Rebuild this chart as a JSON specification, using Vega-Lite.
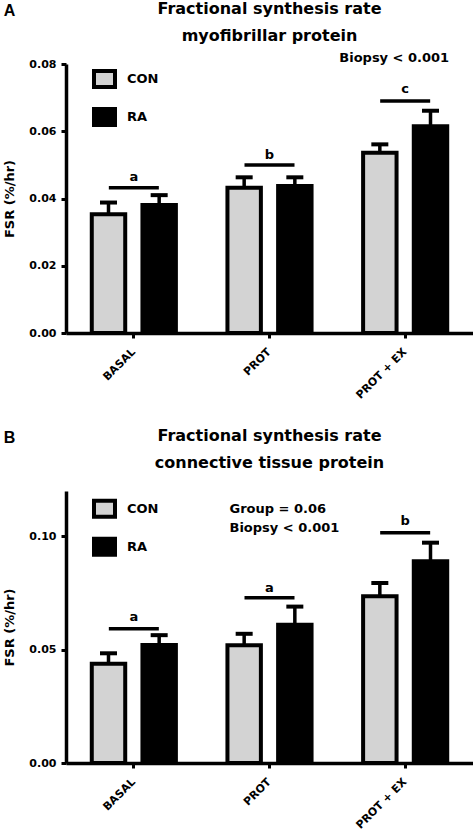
{
  "$schema": "https://vega.github.io/schema/vega-lite/v6.json",
  "background": "white",
  "padding": {"left": 3, "top": 0, "right": 0, "bottom": 0},
  "spacing": 27,
  "config": {
    "view": {"stroke": null},
    "font": "DejaVu Sans",
    "axis": {
      "grid": false,
      "domainColor": "black",
      "domainWidth": 3.5,
      "tickColor": "black",
      "tickWidth": 3,
      "tickSize": 5,
      "labelFont": "DejaVu Sans",
      "labelFontWeight": "bold",
      "labelFontSize": 11,
      "labelColor": "black",
      "titleFont": "DejaVu Sans",
      "titleFontWeight": "bold",
      "titleFontSize": 13,
      "titleColor": "black"
    },
    "legend": {
      "orient": "none",
      "title": null,
      "padding": 0,
      "symbolType": "M-1.05,-0.8H1.05V0.8H-1.05Z",
      "symbolSize": 400,
      "symbolStrokeColor": "black",
      "symbolStrokeWidth": 4,
      "labelFont": "DejaVu Sans",
      "labelFontWeight": "bold",
      "labelFontSize": 13,
      "labelColor": "black",
      "labelOffset": 10.5,
      "rowPadding": 6
    },
    "title": {
      "font": "DejaVu Sans",
      "fontWeight": "bold",
      "fontSize": 16,
      "color": "black",
      "lineHeight": 27,
      "baseline": "alphabetic"
    }
  },
  "datasets": {
    "barsA": [
      {"cond": "BASAL", "group": "CON", "mean": 0.0353, "upper": 0.0388},
      {"cond": "BASAL", "group": "RA", "mean": 0.0381, "upper": 0.041},
      {"cond": "PROT", "group": "CON", "mean": 0.0432, "upper": 0.0463},
      {"cond": "PROT", "group": "RA", "mean": 0.0437, "upper": 0.0463},
      {"cond": "PROT + EX", "group": "CON", "mean": 0.0536, "upper": 0.0561},
      {"cond": "PROT + EX", "group": "RA", "mean": 0.0615, "upper": 0.0661}
    ],
    "sigA": [
      {"cond": "BASAL", "line": 0.0432, "letter": "a", "pos": 0.0453},
      {"cond": "PROT", "line": 0.05, "letter": "b", "pos": 0.0517},
      {"cond": "PROT + EX", "line": 0.069, "letter": "c", "pos": 0.0713}
    ],
    "noteA": [
      {"cond": "PROT + EX", "pos": 0.0806, "note": "Biopsy < 0.001"}
    ],
    "barsB": [
      {"cond": "BASAL", "group": "CON", "mean": 0.0438, "upper": 0.0484},
      {"cond": "BASAL", "group": "RA", "mean": 0.0521, "upper": 0.0564},
      {"cond": "PROT", "group": "CON", "mean": 0.052, "upper": 0.057},
      {"cond": "PROT", "group": "RA", "mean": 0.061, "upper": 0.069},
      {"cond": "PROT + EX", "group": "CON", "mean": 0.0736, "upper": 0.0794},
      {"cond": "PROT + EX", "group": "RA", "mean": 0.089, "upper": 0.0972}
    ],
    "sigB": [
      {"cond": "BASAL", "line": 0.0592, "letter": "a", "pos": 0.0625},
      {"cond": "PROT", "line": 0.0729, "letter": "a", "pos": 0.0756},
      {"cond": "PROT + EX", "line": 0.1016, "letter": "b", "pos": 0.1052}
    ],
    "noteB": [
      {"cond": "PROT", "pos": 0.1104, "note": "Group = 0.06"},
      {"cond": "PROT", "pos": 0.1019, "note": "Biopsy < 0.001"}
    ]
  },
  "vconcat": [
    {
      "title": {"text": "A", "anchor": "start", "frame": "bounds", "offset": -18, "font": "Liberation Sans", "fontSize": 16},
      "resolve": {"scale": {"fill": "independent"}, "legend": {"fill": "independent"}},
      "vconcat": [
        {
          "width": 407,
          "height": 269,
          "title": {"text": ["Fractional synthesis rate", "myofibrillar protein"], "anchor": "middle", "frame": "group", "offset": 8},
          "layer": [
            {
              "data": {"name": "sigA"},
              "mark": {"type": "tick", "color": "black", "opacity": 1, "size": 50, "thickness": 3.5},
              "encoding": {
                "x": {"field": "cond", "type": "nominal", "sort": ["BASAL", "PROT", "PROT + EX"]},
                "y": {"field": "line", "type": "quantitative"}
              }
            },
            {
              "data": {"name": "sigA"},
              "mark": {"type": "text", "fontSize": 13, "fontWeight": "bold", "color": "black", "baseline": "alphabetic"},
              "encoding": {
                "x": {"field": "cond", "type": "nominal", "sort": ["BASAL", "PROT", "PROT + EX"]},
                "y": {"field": "pos", "type": "quantitative"},
                "text": {"field": "letter"}
              }
            },
            {
              "data": {"name": "noteA"},
              "mark": {"type": "text", "fontSize": 13, "fontWeight": "bold", "color": "black", "align": "right", "baseline": "alphabetic", "dx": 44},
              "encoding": {
                "x": {"field": "cond", "type": "nominal", "sort": ["BASAL", "PROT", "PROT + EX"]},
                "y": {"field": "pos", "type": "quantitative"},
                "text": {"field": "note"}
              }
            },
            {
              "data": {"name": "barsA"},
              "mark": {"type": "rule", "color": "black", "strokeWidth": 3.5},
              "encoding": {
                "x": {"field": "cond", "type": "nominal", "sort": ["BASAL", "PROT", "PROT + EX"]},
                "xOffset": {"field": "group", "sort": ["CON", "RA"]},
                "y": {"field": "mean", "type": "quantitative"},
                "y2": {"field": "upper"}
              }
            },
            {
              "data": {"name": "barsA"},
              "mark": {"type": "tick", "color": "black", "opacity": 1, "size": 17, "thickness": 4},
              "encoding": {
                "x": {"field": "cond", "type": "nominal", "sort": ["BASAL", "PROT", "PROT + EX"]},
                "xOffset": {"field": "group", "sort": ["CON", "RA"]},
                "y": {"field": "upper", "type": "quantitative"}
              }
            },
            {
              "data": {"name": "barsA"},
              "mark": {"type": "bar", "stroke": "black", "strokeWidth": 4, "opacity": 1},
              "encoding": {
                "x": {
                  "field": "cond", "type": "nominal", "sort": ["BASAL", "PROT", "PROT + EX"],
                  "scale": {"paddingInner": 0.38, "paddingOuter": 0.19},
                  "axis": {"title": null, "labelAngle": -45, "labelPadding": 12}
                },
                "xOffset": {"field": "group", "sort": ["CON", "RA"], "scale": {"paddingInner": 0.34, "paddingOuter": 0}},
                "y": {
                  "field": "mean", "type": "quantitative",
                  "scale": {"domain": [0, 0.08], "nice": false},
                  "axis": {"title": "FSR (%/hr)", "values": [0, 0.02, 0.04, 0.06, 0.08], "format": ".2f", "labelPadding": 5, "titlePadding": 12}
                },
                "fill": {
                  "field": "group", "type": "nominal",
                  "scale": {"domain": ["CON", "RA"], "range": ["#d3d3d3", "#000000"]},
                  "legend": {"legendX": 26.5, "legendY": 3}
                }
              }
            }
          ]
        }
      ]
    },
    {
      "title": {"text": "B", "anchor": "start", "frame": "bounds", "offset": -18, "font": "Liberation Sans", "fontSize": 16},
      "resolve": {"scale": {"fill": "independent"}, "legend": {"fill": "independent"}},
      "vconcat": [
        {
          "width": 407,
          "height": 272,
          "title": {"text": ["Fractional synthesis rate", "connective tissue protein"], "anchor": "middle", "frame": "group", "offset": 20},
          "layer": [
            {
              "data": {"name": "sigB"},
              "mark": {"type": "tick", "color": "black", "opacity": 1, "size": 50, "thickness": 3.5},
              "encoding": {
                "x": {"field": "cond", "type": "nominal", "sort": ["BASAL", "PROT", "PROT + EX"]},
                "y": {"field": "line", "type": "quantitative"}
              }
            },
            {
              "data": {"name": "sigB"},
              "mark": {"type": "text", "fontSize": 13, "fontWeight": "bold", "color": "black", "baseline": "alphabetic"},
              "encoding": {
                "x": {"field": "cond", "type": "nominal", "sort": ["BASAL", "PROT", "PROT + EX"]},
                "y": {"field": "pos", "type": "quantitative"},
                "text": {"field": "letter"}
              }
            },
            {
              "data": {"name": "noteB"},
              "mark": {"type": "text", "fontSize": 13, "fontWeight": "bold", "color": "black", "align": "left", "baseline": "alphabetic", "dx": -40},
              "encoding": {
                "x": {"field": "cond", "type": "nominal", "sort": ["BASAL", "PROT", "PROT + EX"]},
                "y": {"field": "pos", "type": "quantitative"},
                "text": {"field": "note"}
              }
            },
            {
              "data": {"name": "barsB"},
              "mark": {"type": "rule", "color": "black", "strokeWidth": 3.5},
              "encoding": {
                "x": {"field": "cond", "type": "nominal", "sort": ["BASAL", "PROT", "PROT + EX"]},
                "xOffset": {"field": "group", "sort": ["CON", "RA"]},
                "y": {"field": "mean", "type": "quantitative"},
                "y2": {"field": "upper"}
              }
            },
            {
              "data": {"name": "barsB"},
              "mark": {"type": "tick", "color": "black", "opacity": 1, "size": 17, "thickness": 4},
              "encoding": {
                "x": {"field": "cond", "type": "nominal", "sort": ["BASAL", "PROT", "PROT + EX"]},
                "xOffset": {"field": "group", "sort": ["CON", "RA"]},
                "y": {"field": "upper", "type": "quantitative"}
              }
            },
            {
              "data": {"name": "barsB"},
              "mark": {"type": "bar", "stroke": "black", "strokeWidth": 4, "opacity": 1},
              "encoding": {
                "x": {
                  "field": "cond", "type": "nominal", "sort": ["BASAL", "PROT", "PROT + EX"],
                  "scale": {"paddingInner": 0.38, "paddingOuter": 0.19},
                  "axis": {"title": null, "labelAngle": -45, "labelPadding": 12}
                },
                "xOffset": {"field": "group", "sort": ["CON", "RA"], "scale": {"paddingInner": 0.34, "paddingOuter": 0}},
                "y": {
                  "field": "mean", "type": "quantitative",
                  "scale": {"domain": [0, 0.12], "nice": false},
                  "axis": {"title": "FSR (%/hr)", "values": [0, 0.05, 0.1], "format": ".2f", "labelPadding": 5, "titlePadding": 12}
                },
                "fill": {
                  "field": "group", "type": "nominal",
                  "scale": {"domain": ["CON", "RA"], "range": ["#d3d3d3", "#000000"]},
                  "legend": {"legendX": 26.5, "legendY": 5.8}
                }
              }
            }
          ]
        }
      ]
    }
  ],
  "resolve": {"scale": {"fill": "independent", "x": "independent", "y": "independent"}, "legend": {"fill": "independent"}}
}
